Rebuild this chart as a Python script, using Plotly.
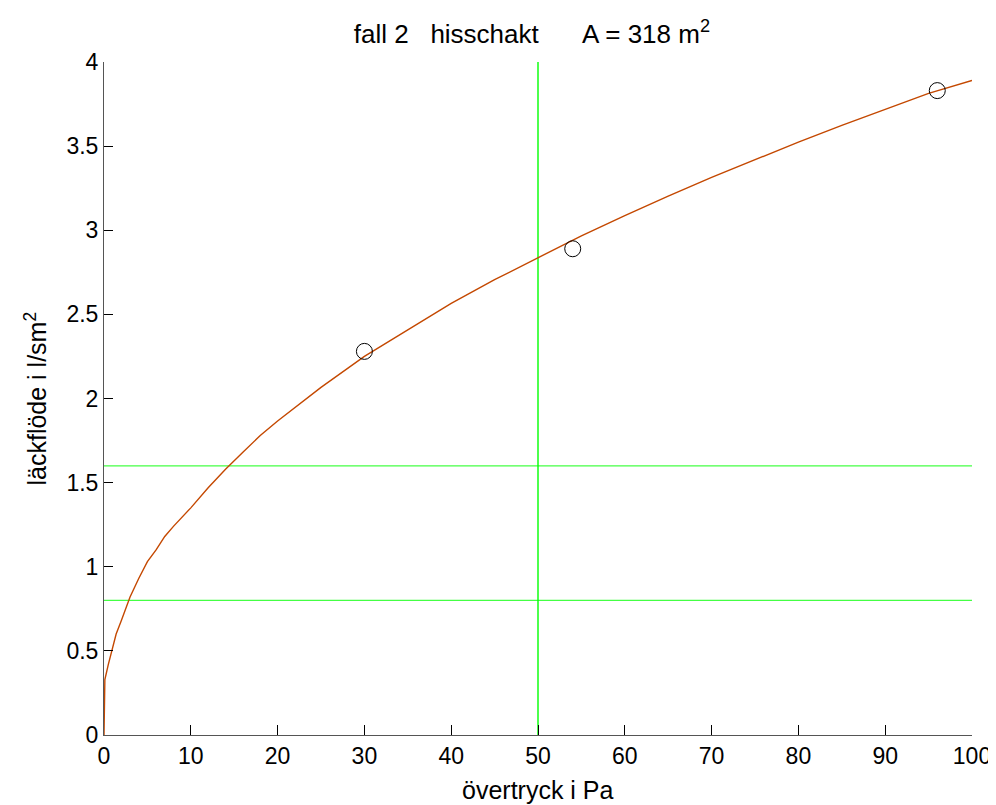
import plotly.graph_objects as go

# Fitted leakage curve
curve_x = [0, 0.1, 0.5, 1, 1.4, 2, 3, 4, 5, 6, 7, 8, 10, 12, 14, 16, 18, 20, 25, 30,
           35, 40, 45, 50, 55, 60, 65, 70, 75, 80, 85, 90, 95, 100]
curve_y = [0, 0.33, 0.42, 0.52, 0.60, 0.68, 0.82, 0.93, 1.03, 1.10, 1.18, 1.24, 1.35, 1.47,
           1.58, 1.68, 1.78, 1.866, 2.066, 2.25, 2.41, 2.565, 2.706, 2.835, 2.967, 3.087,
           3.203, 3.314, 3.421, 3.524, 3.623, 3.719, 3.814, 3.89]

# Measured points
meas_x = [30, 54, 96]
meas_y = [2.28, 2.89, 3.83]

# Reference lines
h_levels = [0.8, 1.6]
v_level = 50

x_ticks = [0, 10, 20, 30, 40, 50, 60, 70, 80, 90, 100]
y_ticks = [0, 0.5, 1, 1.5, 2, 2.5, 3, 3.5, 4]

x_title = "övertryck i Pa"
y_title = "läckflöde i l/sm<sup>2</sup>"
main_title = "fall 2\u00a0\u00a0\u00a0hisschakt\u00a0\u00a0\u00a0\u00a0\u00a0\u00a0A = 318 m<sup>2</sup>"

fig = go.Figure()

for h in h_levels:
    fig.add_trace(go.Scatter(x=[0, 100], y=[h, h], mode="lines",
                             line=dict(color="#44ff44", width=1.2), showlegend=False,
                             hoverinfo="skip"))
fig.add_trace(go.Scatter(x=[v_level, v_level], y=[0, 4], mode="lines",
                         line=dict(color="#00ff00", width=1.4), showlegend=False,
                         hoverinfo="skip"))

fig.add_trace(go.Scatter(x=curve_x, y=curve_y, mode="lines",
                         line=dict(color="#c44800", width=1.4), showlegend=False))

fig.add_trace(go.Scatter(x=meas_x, y=meas_y, mode="markers",
                         marker=dict(symbol="circle-open", size=16,
                                     color="black", line=dict(width=1, color="black")),
                         showlegend=False, cliponaxis=False))

fam = "Liberation Sans, Arial, sans-serif"
tickfont = dict(family=fam, size=23, color="black")
titlefont = dict(family=fam, size=25, color="black")

# page has an 8px body margin, so the figure is offset by 8px
fig.update_layout(
    width=988, height=797,
    margin=dict(l=96, r=24, t=54, b=70),
    paper_bgcolor="white", plot_bgcolor="white",
    font=dict(family=fam, size=22, color="black"),
    title=dict(text=main_title,
               x=0.493, xref="paper", xanchor="center", y=0.968, yanchor="middle",
               font=dict(family=fam, size=26, color="black")),
    xaxis=dict(range=[0, 100], tickvals=x_ticks, ticks="inside", ticklen=10,
               tickcolor="black", showline=True, linecolor="#555555", linewidth=1,
               showgrid=False, zeroline=False, mirror=False, automargin=False,
               tickfont=tickfont),
    yaxis=dict(range=[0, 4], tickvals=y_ticks, ticks="inside", ticklen=9,
               tickcolor="black", showline=True, linecolor="#555555", linewidth=1,
               showgrid=False, zeroline=False, mirror=False, automargin=False,
               tickfont=tickfont),
    annotations=[
        dict(text=x_title, xref="paper", yref="paper", x=0.5, y=0,
             xanchor="center", yanchor="middle", yshift=-55, showarrow=False,
             font=titlefont),
        dict(text=y_title, xref="paper", yref="paper", x=0, y=0.5,
             xanchor="center", yanchor="middle", xshift=-69, textangle=-90,
             showarrow=False, font=titlefont),
    ],
)

fig.write_html("out.html")
